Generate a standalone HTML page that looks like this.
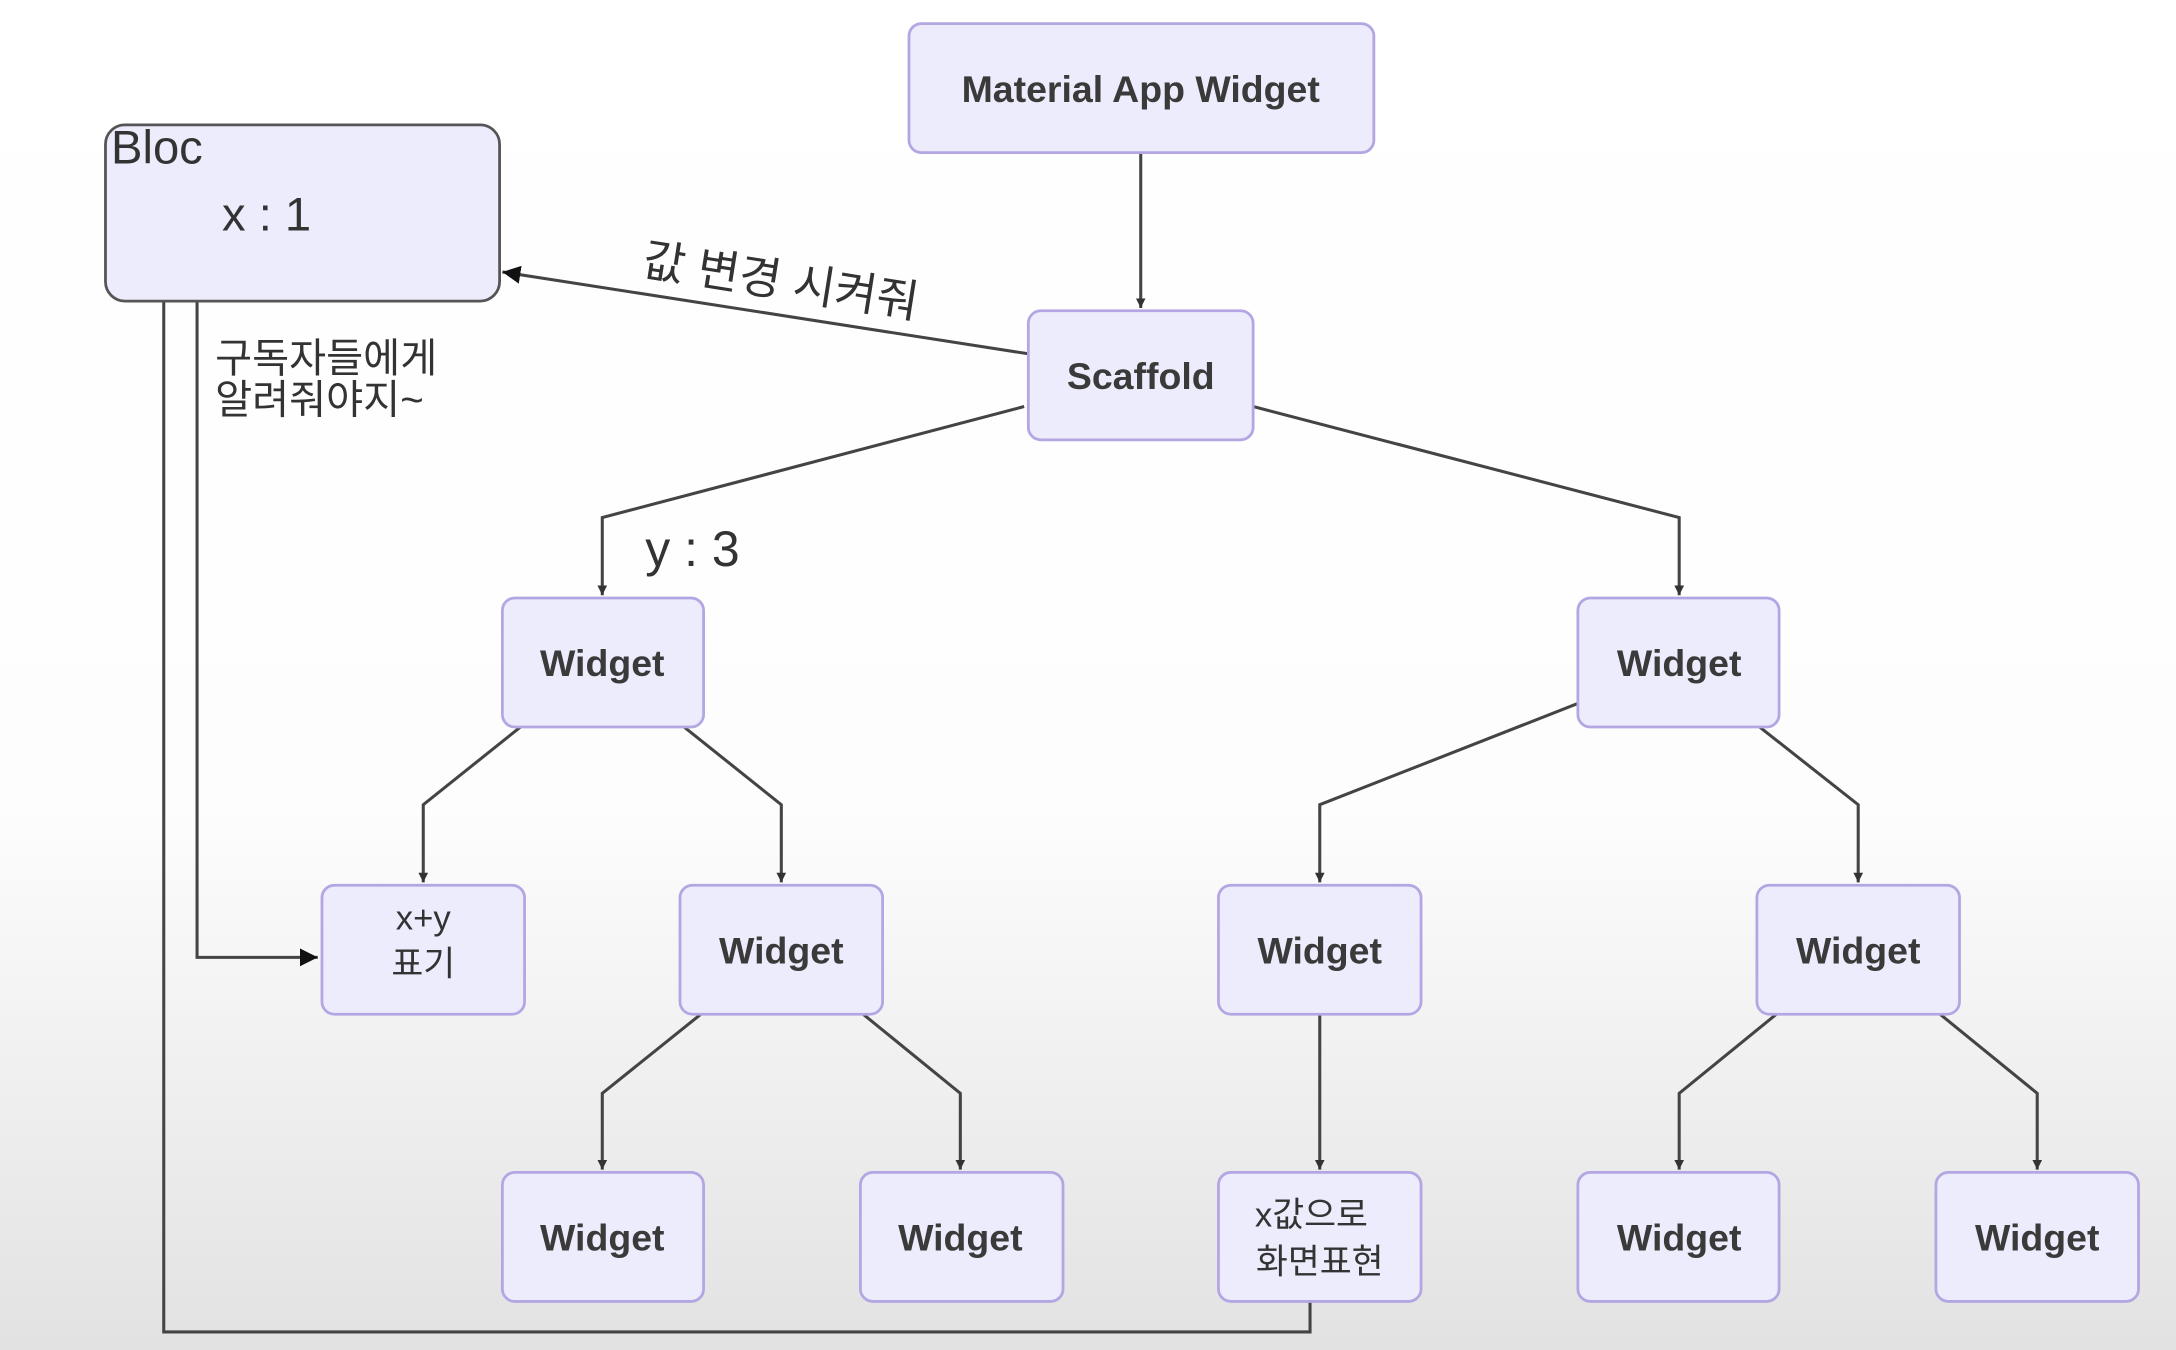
<!DOCTYPE html>
<html><head><meta charset="utf-8"><style>
html,body{margin:0;padding:0;width:2176px;height:1350px;overflow:hidden;background:#fff}
svg{display:block}
text{font-family:"Liberation Sans","Noto Sans CJK KR",sans-serif;fill:#333}
.n{fill:#ececfc;stroke:#b3a6e3;stroke-width:2}
.t{font-size:27px;text-anchor:middle;dominant-baseline:central;font-weight:bold;fill:#3a3a3a}
.e{fill:none;stroke:#444;stroke-width:2.2}
</style></head><body>
<svg width="2176" height="1350" viewBox="0 0 1568 973" preserveAspectRatio="none">
<defs>
<linearGradient id="bg" x1="0" y1="0" x2="0" y2="1">
<stop offset="0" stop-color="#fff"/><stop offset="0.6" stop-color="#fdfdfd"/><stop offset="1" stop-color="#e2e2e2"/>
</linearGradient>
<marker id="a" viewBox="0 0 10 10" refX="10" refY="5" markerWidth="7" markerHeight="7" orient="auto" markerUnits="userSpaceOnUse"><path d="M0,0L10,5L0,10z" fill="#333"/></marker>
<marker id="b" viewBox="0 0 10 10" refX="10" refY="5" markerWidth="13" markerHeight="13" orient="auto" markerUnits="userSpaceOnUse"><path d="M0,0L10,5L0,10z" fill="#111"/></marker>
</defs>
<rect width="1568" height="973" fill="url(#bg)"/>
<g class="e" marker-end="url(#a)">
<path d="M822,110V222"/>
<path d="M738,293L434,373V429"/>
<path d="M903,293L1210,373V429"/>
<path d="M375,524L305,580V636"/>
<path d="M493,524L563,580V636"/>
<path d="M1137,507L951,580V636"/>
<path d="M1268,524L1339,580V636"/>
<path d="M505,731L434,788V843"/>
<path d="M622,731L692,788V843"/>
<path d="M951,731V843"/>
<path d="M1280,731L1210,788V843"/>
<path d="M1398,731L1468,788V843"/>
</g>
<g class="e" stroke="#333" marker-end="url(#b)">
<path d="M741,255L362,196"/>
<path d="M142,217V690H229"/>
<path d="M118,217V960H944V923"/>
</g>
<rect class="n" x="655" y="17" width="335" height="93" rx="9"/>
<text class="t" x="822" y="64">Material App Widget</text>
<rect x="76" y="90" width="284" height="127" rx="14" fill="#ececfc" stroke="#555" stroke-width="2"/>
<text x="80" y="118" font-size="34" fill="#222">Bloc</text>
<text x="160" y="166" font-size="34" fill="#222">x : 1</text>
<rect class="n" x="741" y="224" width="162" height="93" rx="9"/>
<text class="t" x="822" y="271">Scaffold</text>
<rect class="n" x="362" y="431" width="145" height="93" rx="9"/><text class="t" x="434" y="478">Widget</text>
<rect class="n" x="1137" y="431" width="145" height="93" rx="9"/><text class="t" x="1210" y="478">Widget</text>
<rect class="n" x="232" y="638" width="146" height="93" rx="9"/>
<text x="305" y="670" font-size="25" text-anchor="middle" fill="#333">x+y</text>
<text x="305" y="703" font-size="25" text-anchor="middle" fill="#333">표기</text>
<rect class="n" x="490" y="638" width="146" height="93" rx="9"/><text class="t" x="563" y="685">Widget</text>
<rect class="n" x="878" y="638" width="146" height="93" rx="9"/><text class="t" x="951" y="685">Widget</text>
<rect class="n" x="1266" y="638" width="146" height="93" rx="9"/><text class="t" x="1339" y="685">Widget</text>
<rect class="n" x="362" y="845" width="145" height="93" rx="9"/><text class="t" x="434" y="892">Widget</text>
<rect class="n" x="620" y="845" width="146" height="93" rx="9"/><text class="t" x="692" y="892">Widget</text>
<rect class="n" x="878" y="845" width="146" height="93" rx="9"/>
<text x="945" y="884" font-size="25" text-anchor="middle" fill="#333">x값으로</text>
<text x="951" y="918" font-size="25" text-anchor="middle" fill="#333">화면표현</text>
<rect class="n" x="1137" y="845" width="145" height="93" rx="9"/><text class="t" x="1210" y="892">Widget</text>
<rect class="n" x="1395" y="845" width="146" height="93" rx="9"/><text class="t" x="1468" y="892">Widget</text>
<text x="462" y="198" font-size="33" fill="#222" transform="rotate(9 462 198)">값 변경 시켜줘</text>
<text x="155" y="268" font-size="29" fill="#333">구독자들에게</text>
<text x="155" y="298" font-size="29" fill="#333">알려줘야지~</text>
<text x="465" y="408" font-size="36" fill="#222">y : 3</text>
</svg>
</body></html>
